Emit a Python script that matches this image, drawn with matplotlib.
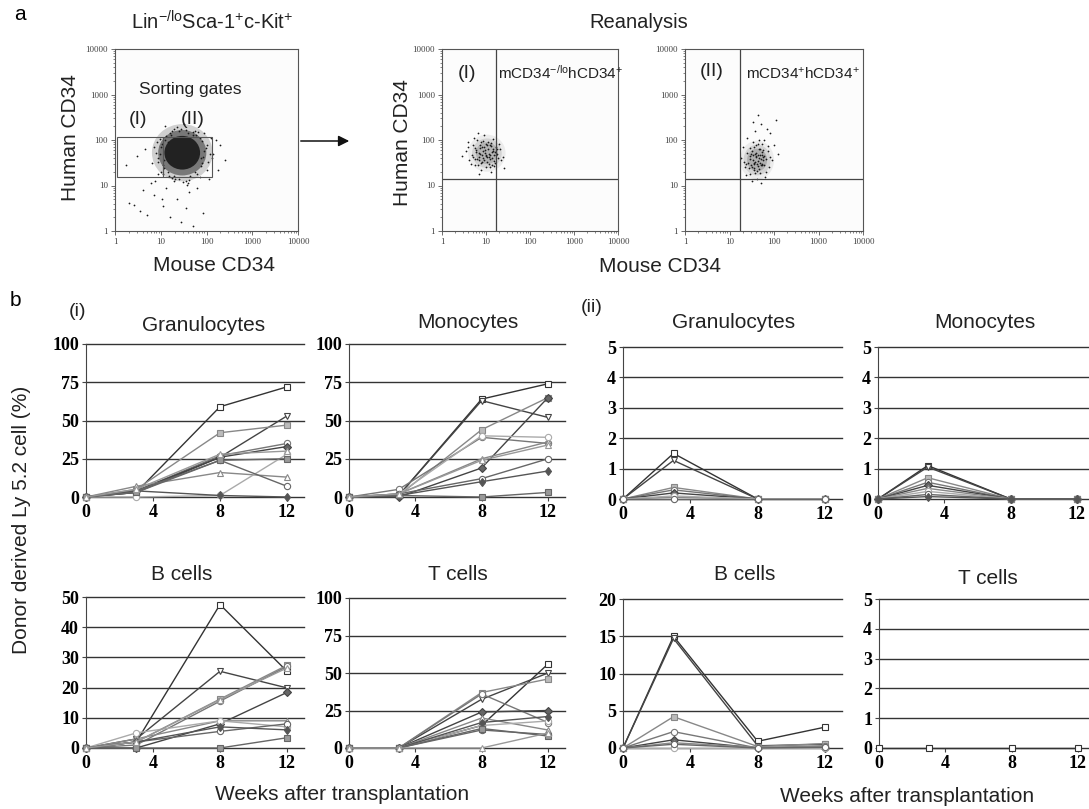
import numpy as np
import matplotlib.pyplot as plt
from matplotlib.patches import Ellipse, Rectangle, FancyArrowPatch

plt.rcParams['font.family'] = ['Liberation Sans', 'DejaVu Sans']
plt.rcParams['mathtext.fontset'] = 'custom'
plt.rcParams['mathtext.rm'] = 'Liberation Sans'
plt.rcParams['mathtext.default'] = 'regular'

# ---- panel a: flow plots, positions in log10 decades ----
decade_labels = ['1', '10', '100', '1000', '10000']

# sorting plot: dense core + scattered events
sort_core = (1.47, 1.72)
sort_x = [0.30, 0.42, 0.55, 0.62, 0.70, 0.78, 0.85, 0.95, 1.05, 1.12, 1.20, 1.28, 1.35, 1.45,
          1.55, 1.62, 1.70, 1.80, 1.92, 2.05, 2.15, 2.25, 2.40, 0.25, 0.48, 0.66, 0.80, 0.92,
          1.00, 2.10, 2.20, 2.30, 1.10, 1.30, 1.50, 1.75, 1.95, 0.88, 1.02, 1.60,
          0.95, 1.00, 1.05, 1.10, 1.15, 1.90, 1.95, 2.00, 1.85, 1.80, 1.20, 1.30, 1.40, 1.55,
          1.65, 1.75, 1.25, 1.45, 1.60, 1.70, 0.98, 1.08, 1.88, 2.02,
          0.90, 0.95, 1.02, 1.08, 1.12, 1.18, 1.22, 1.88, 1.93, 1.98, 2.03, 2.08, 1.85, 1.78,
          1.70, 1.62, 1.55, 1.48, 1.40, 1.32, 1.25, 1.15, 1.05, 0.99, 1.90, 2.12, 0.85, 1.35,
          1.58, 1.82]
sort_y = [0.62, 0.58, 0.45, 0.90, 0.35, 1.05, 0.80, 1.25, 0.55, 0.95, 0.30, 1.10, 0.70, 0.20,
          0.50, 0.85, 0.12, 0.95, 0.40, 1.15, 1.70, 1.35, 1.55, 1.45, 1.65, 1.80, 1.50, 1.95,
          1.30, 2.05, 2.00, 1.90, 2.30, 2.25, 2.35, 2.20, 2.15, 1.10, 0.70, 1.05,
          1.60, 1.85, 1.45, 2.00, 1.30, 1.50, 1.75, 1.35, 2.05, 1.25, 2.15, 1.20, 1.15, 1.10,
          1.20, 1.30, 2.20, 2.25, 2.15, 2.10, 1.70, 1.55, 1.60, 1.90,
          1.72, 1.52, 1.92, 1.38, 2.08, 1.20, 2.12, 1.42, 1.62, 1.82, 1.52, 1.70, 1.18, 2.12,
          2.18, 1.12, 2.22, 1.08, 2.20, 1.14, 1.16, 1.95, 1.25, 2.02, 1.98, 1.60, 1.85, 2.28,
          1.02, 2.18]
gate_lo, gate_hi = 1.19, 2.07
gate_x = [0.04, 1.05, 2.13]

# reanalysis (I)
re1_core = (1.02, 1.71)
re1_x = [0.55, 0.62, 0.70, 0.75, 0.80, 0.85, 0.88, 0.92, 0.95, 1.00, 1.05, 1.08, 1.12, 1.15,
         1.20, 1.25, 1.30, 0.68, 0.78, 0.90, 1.02, 1.10, 1.18, 1.28, 0.72, 0.84, 0.97, 1.06,
         1.22, 0.60, 0.82, 1.35, 0.45, 1.40, 0.93, 1.13, 0.87, 1.03, 0.76, 1.16,
         0.70, 0.74, 0.79, 0.83, 0.86, 0.89, 0.91, 0.94, 0.96, 0.99, 1.01, 1.04, 1.07, 1.09,
         1.11, 1.14, 1.17, 1.19, 1.23, 1.26, 0.81, 0.87, 0.93, 0.98, 1.03, 1.08, 1.13, 1.18,
         0.77, 0.95, 1.00, 1.06, 0.89, 1.11, 0.84, 1.21, 0.65, 1.32, 0.58, 1.38]
re1_y = [1.75, 1.55, 1.90, 1.45, 2.00, 1.62, 1.35, 1.85, 2.10, 1.40, 1.95, 1.58, 1.30, 1.80,
         1.50, 1.70, 1.92, 1.68, 1.78, 1.52, 1.88, 1.66, 1.42, 1.60, 2.05, 1.25, 1.72, 1.48,
         1.85, 1.95, 2.15, 1.55, 1.65, 1.38, 1.98, 1.74, 1.82, 1.62, 1.58, 2.02,
         1.62, 1.82, 1.58, 1.72, 1.88, 1.50, 1.66, 1.76, 1.56, 1.92, 1.64, 1.80, 1.70, 1.40,
         1.86, 1.60, 1.76, 1.54, 1.68, 1.80, 1.44, 1.70, 1.60, 1.78, 1.52, 1.90, 1.46, 1.66,
         1.74, 1.84, 1.68, 1.62, 1.96, 1.94, 1.56, 1.74, 1.48, 1.80, 1.85, 1.62]

# reanalysis (II)
re2_core = (1.62, 1.56)
re2_x = [1.25, 1.30, 1.35, 1.40, 1.45, 1.48, 1.52, 1.55, 1.58, 1.62, 1.66, 1.70, 1.74, 1.78,
         1.82, 1.86, 1.90, 1.95, 2.00, 2.05, 1.42, 1.50, 1.60, 1.68, 1.76, 1.84, 1.38, 1.56,
         1.72, 1.88, 1.46, 1.64, 1.80, 1.33, 2.10, 1.52, 1.70, 1.60, 1.92, 1.44,
         1.45, 1.49, 1.53, 1.57, 1.60, 1.63, 1.66, 1.69, 1.72, 1.75, 1.78, 1.50, 1.55, 1.59,
         1.64, 1.68, 1.73, 1.77, 1.52, 1.58, 1.62, 1.67, 1.71, 1.47, 1.56, 1.65, 1.74, 1.61,
         1.54, 1.70, 1.40, 1.83, 1.36, 1.87, 1.63, 1.58, 1.69, 1.51, 1.76, 1.66]
re2_y = [1.60, 1.85, 1.40, 2.05, 1.25, 1.70, 1.95, 1.35, 2.20, 1.15, 1.80, 2.35, 1.45, 2.00,
         1.30, 1.75, 2.15, 1.55, 1.90, 2.45, 1.50, 1.10, 1.65, 1.28, 1.62, 2.25, 1.22, 1.48,
         1.92, 1.40, 1.82, 2.55, 1.18, 1.52, 1.70, 2.40, 1.05, 1.88, 1.62, 1.38,
         1.58, 1.45, 1.66, 1.52, 1.72, 1.42, 1.60, 1.50, 1.68, 1.56, 1.46, 1.76, 1.38, 1.62,
         1.54, 1.80, 1.48, 1.64, 1.55, 1.70, 1.48, 1.36, 1.58, 1.64, 1.84, 1.66, 1.74, 1.32,
         1.50, 1.44, 1.72, 1.58, 1.48, 1.86, 1.92, 1.28, 1.68, 1.40, 1.78, 2.00]
quad_x, quad_y = 1.23, 1.15

# ---- panel b: donor chimerism (%) at weeks 0, 3, 8, 12 ----
weeks = [0, 3, 8, 12]

gran_i = [[0, 3, 59, 72], [0, 3, 26, 53], [0, 5, 42, 47], [0, 4, 27, 35], [0, 4, 26, 33],
          [0, 7, 16, 13], [0, 0, 1, 28], [0, 4, 24, 7], [0, 4, 1, 0], [0, 3, 24, 25],
          [0, 5, 28, 30]]
mono_i = [[0, 1, 64, 74], [0, 1, 63, 52], [0, 1, 44, 65], [0, 5, 39, 35], [0, 0, 19, 65],
          [0, 2, 25, 36], [0, 2, 40, 39], [0, 2, 12, 25], [0, 1, 10, 17], [0, 1, 0, 3],
          [0, 2, 24, 34]]
bcell_i = [[0, 2, 47.5, 25.4], [0, 3, 25.4, 19.9], [0, 2, 16.2, 27.4], [0, 1, 15.5, 27],
           [0, 0, 8, 18.4], [0, 3, 9, 9], [0, 5, 9, 7], [0, 2, 5.5, 8], [0, 2, 7, 6],
           [0, 0, 0, 3.4], [0, 2, 16, 26.5]]
tcell_i = [[0, 0, 15, 56], [0, 0, 32.5, 50], [0, 0, 37, 46], [0, 0, 36, 17], [0, 0, 24, 25],
           [0, 0, 20, 12], [0, 0, 15, 18], [0, 0, 12, 9], [0, 0, 17, 21], [0, 0, 13, 8],
           [0, 0, 0, 10]]
gran_ii = [[0, 1.5, 0, 0], [0, 1.27, 0, 0], [0, 0.38, 0, 0], [0, 0.3, 0, 0], [0, 0.2, 0, 0],
           [0, 0.06, 0, 0], [0, 0.1, 0, 0], [0, 0, 0, 0]]
mono_ii = [[0, 1.1, 0, 0], [0, 1.05, 0, 0], [0, 0.7, 0, 0], [0, 0.55, 0, 0], [0, 0.45, 0, 0],
           [0, 0.35, 0, 0], [0, 0.25, 0, 0], [0, 0.15, 0, 0], [0, 0.08, 0, 0]]
bcell_ii = [[0, 15, 0.9, 2.8], [0, 14.7, 0.3, 0.5], [0, 4.2, 0.2, 0.6], [0, 2.2, 0, 0.3],
            [0, 1.1, 0, 0], [0, 0.7, 0.1, 0.2], [0, 0, 0, 0], [0, 0.5, 0, 0.1]]
tcell_ii = [[0, 0, 0, 0]]

styles = [('s', '#333333', 'white'), ('v', '#444444', 'white'), ('s', '#888888', '#bbbbbb'),
          ('o', '#777777', 'white'), ('D', '#444444', '#666666'), ('^', '#888888', 'white'),
          ('o', '#aaaaaa', 'white'), ('o', '#666666', 'white'), ('d', '#555555', '#555555'),
          ('s', '#666666', '#999999'), ('^', '#999999', 'white')]

W, H = 1089, 809
fig = plt.figure(figsize=(W / 100, H / 100), dpi=100)


def px_axes(left, top, right, bottom):
    return fig.add_axes([left / W, 1 - bottom / H, (right - left) / W, (bottom - top) / H])


def px_text(x, y, s, **kw):
    kw.setdefault('ha', 'center')
    kw.setdefault('va', 'center')
    fig.text(x / W, 1 - y / H, s, **kw)


def flow_axes(left, right):
    ax = px_axes(left, 49, right, 231)
    ax.set_xlim(0, 4)
    ax.set_ylim(0, 4)
    minor = [d + np.log10(k) for d in range(4) for k in range(2, 10)]
    ax.set_xticks(range(5))
    ax.set_yticks(range(5))
    ax.set_xticks(minor, minor=True)
    ax.set_yticks(minor, minor=True)
    ax.set_xticklabels(decade_labels)
    ax.set_yticklabels(decade_labels)
    for lab in ax.get_xticklabels() + ax.get_yticklabels():
        lab.set_fontfamily('Liberation Serif')
        lab.set_fontsize(6.5)
        lab.set_color('#444444')
    ax.tick_params(which='major', length=3, width=0.6, pad=2, color='#555555')
    ax.tick_params(which='minor', length=1.5, width=0.5, color='#555555')
    for s in ax.spines.values():
        s.set_linewidth(0.8)
        s.set_color('#555555')
    ax.set_facecolor('#fcfcfc')
    return ax


def cloud(ax, core, xs, ys, w, h, alphas):
    # nested ellipses give the density fall-off, listed events on top
    for scale, a in zip([1.7, 1.35, 1.0], alphas):
        ax.add_patch(Ellipse(core, w * scale, h * scale, color='#222222', alpha=a, lw=0))
    ax.scatter(xs, ys, s=1.6, color='#1a1a1a', lw=0)


# sorting plot
ax = flow_axes(115, 298)
cloud(ax, sort_core, sort_x, sort_y, 0.78, 0.74, [0.2, 0.5, 1.0])
ax.add_patch(Rectangle((gate_x[0], gate_lo), gate_x[1] - gate_x[0], gate_hi - gate_lo,
                       fill=False, ec='#555555', lw=0.8))
ax.add_patch(Rectangle((gate_x[1], gate_lo), gate_x[2] - gate_x[1], gate_hi - gate_lo,
                       fill=False, ec='#555555', lw=0.8))
ax.text(1.64, 3.12, 'Sorting gates', fontsize=12.5, ha='center', va='center', color='#222222')
ax.text(0.50, 2.44, '(I)', fontsize=14, ha='center', va='center', color='#222222')
ax.text(1.70, 2.44, '(II)', fontsize=14, ha='center', va='center', color='#222222')

ax = flow_axes(442, 618)
cloud(ax, re1_core, re1_x, re1_y, 0.5, 0.48, [0.07, 0.12, 0.18])
ax.axvline(quad_x, color='#444444', lw=0.9)
ax.axhline(quad_y, color='#444444', lw=0.9)
ax.text(0.57, 3.47, '(I)', fontsize=14, ha='center', va='center', color='#222222')
ax.text(1.27, 3.47, r'mCD34$^{-/lo}$hCD34$^{+}$', fontsize=11, ha='left', va='center',
        color='#222222')

ax = flow_axes(685, 863)
cloud(ax, re2_core, re2_x, re2_y, 0.45, 0.5, [0.07, 0.12, 0.2])
ax.axvline(quad_x, color='#444444', lw=0.9)
ax.axhline(quad_y, color='#444444', lw=0.9)
ax.text(0.6, 3.5, '(II)', fontsize=14, ha='center', va='center', color='#222222')
ax.text(1.37, 3.47, r'mCD34$^{+}$hCD34$^{+}$', fontsize=11, ha='left', va='center',
        color='#222222')

fig.add_artist(FancyArrowPatch((298 / W, 1 - 141 / H), (352 / W, 1 - 141 / H),
                               transform=fig.transFigure, arrowstyle='-|>',
                               mutation_scale=16, color='#111111', lw=1.1))

px_text(20, 15, 'a', fontsize=15)
px_text(212, 22, r'Lin$^{-/lo}$Sca-1$^{+}$c-Kit$^{+}$', fontsize=14.5, color='#222222')
px_text(639, 23, 'Reanalysis', fontsize=14.5, color='#222222')
px_text(71, 138, 'Human CD34', fontsize=15, rotation=90, color='#222222')
px_text(403, 143, 'Human CD34', fontsize=15, rotation=90, color='#222222')
px_text(214, 265, 'Mouse CD34', fontsize=15, color='#222222')
px_text(660, 267, 'Mouse CD34', fontsize=15, color='#222222')


# ---- panel b ----
def line_axes(left, top, x12, bottom, series, yticks, title, title_xy):
    right = left + (x12 - left) * 13 / 12
    ax = px_axes(left, top, right, bottom)
    ax.set_xlim(0, 13)
    ax.set_ylim(0, yticks[-1])
    for y in yticks:
        ax.axhline(y, color='#333333', lw=1, clip_on=False, zorder=1)
    for i, vals in enumerate(series):
        m, ec, fc = styles[i % len(styles)]
        ax.plot(weeks, vals, color=ec, lw=1, marker=m, ms=4.5, mfc=fc, mec=ec, mew=0.8,
                clip_on=False, zorder=3)
    for side in ['top', 'right', 'bottom']:
        ax.spines[side].set_visible(False)
    ax.spines['left'].set_color('#444444')
    ax.set_xticks([0, 4, 8, 12])
    ax.set_yticks(yticks)
    ax.tick_params(length=3, width=0.8, color='#444444', pad=2, labelsize=13)
    for lab in ax.get_xticklabels() + ax.get_yticklabels():
        lab.set_fontfamily('Liberation Serif')
        lab.set_fontweight('bold')
    px_text(title_xy[0], title_xy[1], title, fontsize=15, color='#222222')
    return ax


pct = [0, 25, 50, 75, 100]
line_axes(86, 344, 287, 497, gran_i, pct, 'Granulocytes', (204, 325))
line_axes(349, 344, 548, 497, mono_i, pct, 'Monocytes', (468, 323))
line_axes(623, 347, 825, 499, gran_ii, [0, 1, 2, 3, 4, 5], 'Granulocytes', (734, 323))
line_axes(878, 347, 1077, 499, mono_ii, [0, 1, 2, 3, 4, 5], 'Monocytes', (985, 323))
line_axes(86, 597, 287, 748, bcell_i, [0, 10, 20, 30, 40, 50], 'B cells', (182, 575))
line_axes(349, 598, 548, 748, tcell_i, pct, 'T cells', (458, 575))
line_axes(623, 599, 825, 748, bcell_ii, [0, 5, 10, 15, 20], 'B cells', (745, 575))
line_axes(879, 599, 1078, 748, tcell_ii, [0, 1, 2, 3, 4, 5], 'T cells', (988, 579))

px_text(15, 300, 'b', fontsize=15)
px_text(77, 312, '(i)', fontsize=14, color='#222222')
px_text(592, 308, '(ii)', fontsize=14, color='#222222')
px_text(22, 520, 'Donor derived Ly 5.2 cell (%)', fontsize=15, rotation=90, color='#222222')
px_text(342, 795, 'Weeks after transplantation', fontsize=15, color='#222222')
px_text(907, 797, 'Weeks after transplantation', fontsize=15, color='#222222')

fig.savefig('out.png', dpi=100)
